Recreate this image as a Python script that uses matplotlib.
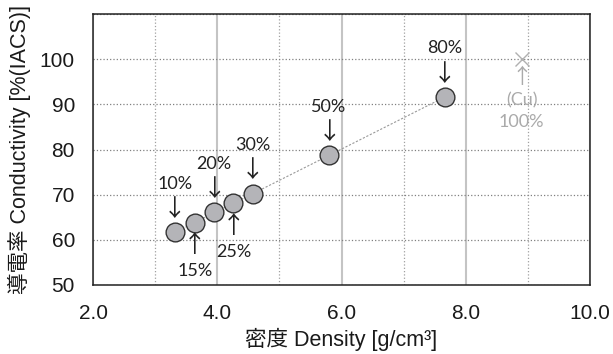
import matplotlib
matplotlib.use('Agg')
import matplotlib.pyplot as plt

# データ
density = [3.32, 3.64, 3.95, 4.26, 4.57, 5.80, 7.66]
conductivity = [61.7, 63.8, 66.1, 68.1, 70.2, 78.7, 91.6]
pct_labels = ['10%', '15%', '20%', '25%', '30%', '50%', '80%']
label_side = ['up', 'down', 'up', 'down', 'up', 'up', 'up']
cu_density = 8.9
cu_conductivity = 100.0

plt.rcParams['font.family'] = ['Liberation Sans', 'Noto Sans CJK JP', 'DejaVu Sans']

fig = plt.figure(figsize=(6.13, 3.54), dpi=100)
ax = fig.add_axes([93 / 613, 1 - 285 / 354, (590 - 93) / 613, (285 - 14) / 354])

# グリッド
ax.set_xlim(2.0, 10.0)
ax.set_ylim(50, 110)
ax.set_xticks([2.0, 4.0, 6.0, 8.0, 10.0])
ax.set_xticklabels(['2.0', '4.0', '6.0', '8.0', '10.0'])
ax.set_xticks([3.0, 5.0, 7.0, 9.0], minor=True)
ax.set_yticks([50, 60, 70, 80, 90, 100, 110])
ax.set_yticklabels(['50', '60', '70', '80', '90', '100', ''])
ax.grid(True, axis='x', which='major', color='#c4c4c4', linestyle='-', linewidth=1.5)
ax.grid(True, axis='x', which='minor', color='#a0a0a0', linestyle=':', linewidth=0.9)
ax.grid(True, axis='y', which='major', color='#808080', linestyle=':', linewidth=0.9)
ax.tick_params(which='both', length=0, labelsize=15, colors='#1a1a1a')
ax.tick_params(axis='y', pad=13)
ax.tick_params(axis='x', pad=14)
for s in ax.spines.values():
    s.set_color('#222222')
    s.set_linewidth(1.1)
ax.set_axisbelow(True)

# 点と破線
ax.plot(density, conductivity, color='#999999', linestyle=(0, (2, 1.5)), linewidth=0.8, zorder=2)
ax.plot(density, conductivity, linestyle='none', marker='o', markersize=13.5,
        markerfacecolor='#b4b4b8', markeredgecolor='#333333', markeredgewidth=1.0, zorder=3)

lab_font = ['Lato', 'DejaVu Sans']
arrow_font = ['Noto Sans CJK JP', 'DejaVu Sans']
for x, y, t, side in zip(density, conductivity, pct_labels, label_side):
    sgn = 1 if side == 'up' else -1
    ax.annotate('↓' if side == 'up' else '↑', (x, y), xytext=(0, sgn * 16.5), textcoords='offset points',
                ha='center', va='center', fontsize=17, color='#222222', family=arrow_font)
    ax.annotate(t, (x, y), xytext=(0, sgn * 35), textcoords='offset points',
                ha='center', va='center', fontsize=13, color='#222222', family=lab_font)

# 銅
ax.plot([cu_density], [cu_conductivity], linestyle='none', marker='x', markersize=9.5,
        color='#b0b0b0', markeredgewidth=1.0, zorder=3)
ax.annotate('↑', (cu_density, cu_conductivity), xytext=(0, -12.5), textcoords='offset points',
            ha='center', va='center', fontsize=15, color='#aaaaaa', family=arrow_font)
ax.annotate('(Cu)', (cu_density, cu_conductivity), xytext=(0, -29.5), textcoords='offset points',
            ha='center', va='center', fontsize=13, color='#aaaaaa', family=lab_font)
ax.annotate('100%', (cu_density, cu_conductivity), xytext=(0, -45), textcoords='offset points',
            ha='center', va='center', fontsize=13, color='#aaaaaa', family=lab_font)

ax.set_xlabel('密度 Density [g/cm³]', fontsize=15.5, labelpad=3, color='#1a1a1a')
ax.set_ylabel('導電率 Conductivity [%(IACS)]', fontsize=15.5, labelpad=6, color='#1a1a1a')

fig.savefig('out.png', dpi=100)
